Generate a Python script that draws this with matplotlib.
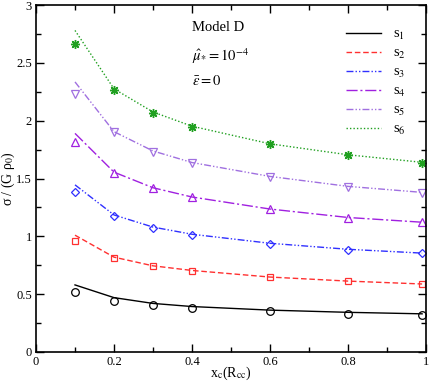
import matplotlib
matplotlib.use("Agg")
import matplotlib.pyplot as plt
from matplotlib.ticker import MultipleLocator, FuncFormatter

plt.rcParams['font.family'] = ['Liberation Serif', 'DejaVu Serif']
plt.rcParams['mathtext.fontset'] = 'stix'

x = [0.1, 0.2, 0.3, 0.4, 0.6, 0.8, 0.99]

# model curves
line_s1 = [0.58, 0.47, 0.42, 0.393, 0.362, 0.343, 0.33]
line_s2 = [1.01, 0.82, 0.745, 0.705, 0.648, 0.613, 0.588]
line_s3 = [1.445, 1.185, 1.08, 1.018, 0.94, 0.888, 0.855]
line_s4 = [1.89, 1.555, 1.42, 1.34, 1.236, 1.163, 1.122]
line_s5 = [2.335, 1.905, 1.738, 1.638, 1.518, 1.432, 1.38]
line_s6 = [2.78, 2.275, 2.075, 1.952, 1.8, 1.705, 1.64]

# simulation points
pts_s1 = [0.522, 0.444, 0.404, 0.383, 0.354, 0.331, 0.317]
pts_s2 = [0.96, 0.813, 0.741, 0.70, 0.646, 0.611, 0.585]
pts_s3 = [1.381, 1.178, 1.075, 1.014, 0.937, 0.885, 0.853]
pts_s4 = [1.818, 1.548, 1.415, 1.337, 1.234, 1.161, 1.121]
pts_s5 = [2.228, 1.899, 1.732, 1.634, 1.516, 1.429, 1.377]
pts_s6 = [2.663, 2.265, 2.069, 1.948, 1.798, 1.703, 1.637]

labels = ['s$_1$', 's$_2$', 's$_3$', 's$_4$', 's$_5$', 's$_6$']
colors = ['black', '#ff3030', '#3030ff', '#a020e0', '#a070e0', '#20a020']
styles = ['-', (0, (4, 2)), (0, (5, 1.5, 1, 1.5, 1, 1.5)), (0, (8, 2, 1.5, 2)),
          (0, (5, 1.5, 1, 1.5, 1, 1.5)), (0, (1, 1.5))]
markers = ['o', 's', 'D', '^', 'v', None]
msizes = [5.5, 5, 4.3, 5.5, 5.5, 0]
lines = [line_s1, line_s2, line_s3, line_s4, line_s5, line_s6]
pts = [pts_s1, pts_s2, pts_s3, pts_s4, pts_s5, pts_s6]

fig = plt.figure(figsize=(4.35, 3.82), dpi=100)
ax = fig.add_axes([36/435, 1-352/382, 390/435, 347/382])

for ly, py, lab, c, ls, m, ms in zip(lines, pts, labels, colors, styles, markers, msizes):
    ax.plot(x, ly, color=c, linestyle=ls, lw=1.0, label=lab)
    if m is None:
        ax.plot(x, py, linestyle='none', marker='o', ms=3, color=c, mec=c)
        ax.plot(x, py, linestyle='none', marker=(8, 2, 0), ms=6.5, color=c, mec=c, mew=1.0)
    else:
        ax.plot(x, py, linestyle='none', marker=m, ms=ms, mfc='none', mec=c, mew=0.9)

ax.set_xlim(0, 1)
ax.set_ylim(0, 3)
ax.xaxis.set_major_locator(MultipleLocator(0.2))
ax.xaxis.set_minor_locator(MultipleLocator(0.1))
ax.yaxis.set_major_locator(MultipleLocator(0.5))
ax.yaxis.set_minor_locator(MultipleLocator(0.25))
ax.xaxis.set_major_formatter(FuncFormatter(lambda v, p: '%g' % v))
ax.yaxis.set_major_formatter(FuncFormatter(lambda v, p: '%g' % v))
ax.tick_params(which='both', direction='in', top=True, right=True, labelsize=9, pad=3)
ax.tick_params(which='major', length=6, width=1)
ax.tick_params(which='minor', length=3.5, width=1)
for s in ax.spines.values():
    s.set_linewidth(1.2)

ax.set_xlabel('x$_{\\mathrm{c}}$(R$_{\\mathrm{cc}}$)', fontsize=10)
ax.xaxis.set_label_coords(0.5, -0.036, transform=ax.transAxes)
ax.xaxis.label.set_va('top')
fig.text(8.5/435, 1-179/382, 'σ / (G ρ$_0$)', fontsize=10, rotation=90,
         ha='center', va='center')

ax.text(0.40, 0.935, 'Model D', transform=ax.transAxes, fontsize=10.5, va='center')
ax.text(0.40, 0.852, r'$\hat{\mu}_{*} = 10^{-4}$', transform=ax.transAxes, fontsize=10.5, va='center')
ax.text(0.40, 0.78, r'$\bar{\varepsilon} = 0$', transform=ax.transAxes, fontsize=10.5, va='center')

leg = ax.legend(loc='upper right', frameon=False, fontsize=10.5, handlelength=2.4,
                labelspacing=0.32, handletextpad=0.8, borderaxespad=0.0,
                bbox_to_anchor=(0.963, 0.95))

fig.savefig('out.png', dpi=100)
